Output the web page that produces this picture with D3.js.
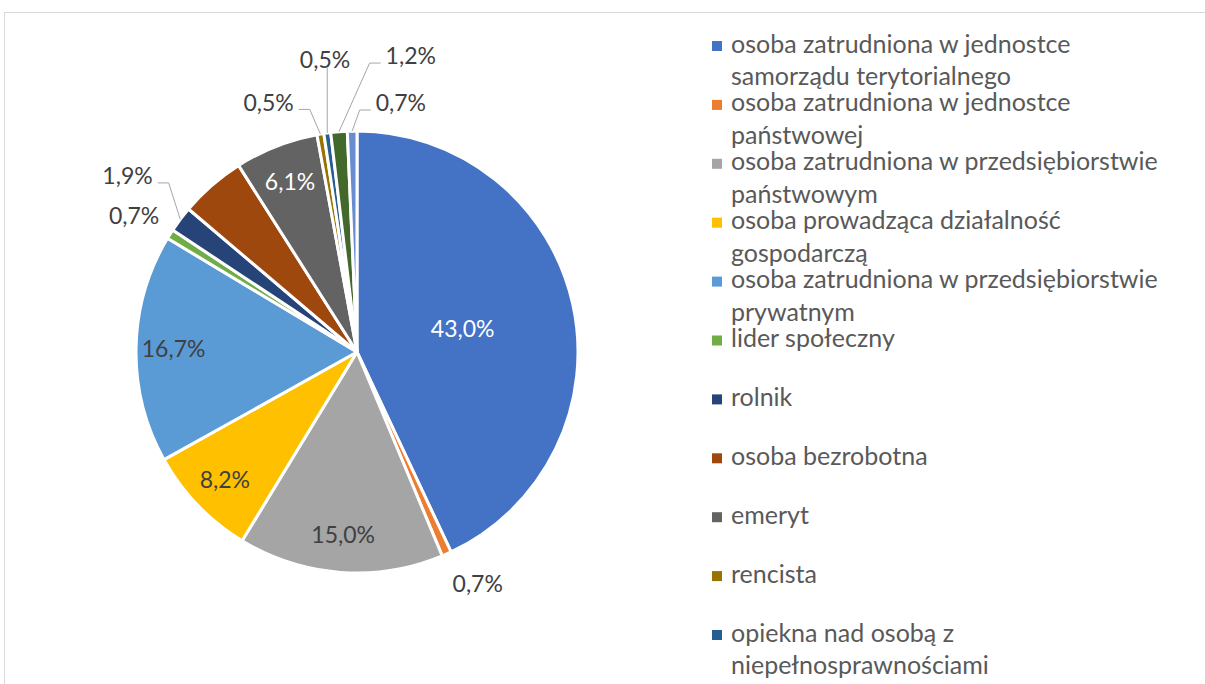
<!DOCTYPE html>
<html>
<head>
<meta charset="utf-8">
<script src="https://cdn.jsdelivr.net/npm/d3@7"></script>
<style>
body { margin: 0; background: #fff; }
svg { display: block; font-family: Lato, "Open Sans", sans-serif; }
</style>
</head>
<body>
<div class="chart"></div>
<script>
// data
var categories = [
    "osoba zatrudniona w jednostce samorządu terytorialnego",
    "osoba zatrudniona w jednostce państwowej",
    "osoba zatrudniona w przedsiębiorstwie państwowym",
    "osoba prowadząca działalność gospodarczą",
    "osoba zatrudniona w przedsiębiorstwie prywatnym",
    "lider społeczny",
    "rolnik",
    "osoba bezrobotna",
    "emeryt",
    "rencista",
    "opiekna nad osobą z niepełnosprawnościami",
    "inne",
    "brak danych"
];
var values = [43.0, 0.7, 15.0, 8.2, 16.7, 0.7, 1.9, 4.8, 6.1, 0.5, 0.5, 1.2, 0.7];
var colors = ["#4472C4", "#ED7D31", "#A5A5A5", "#FFC000", "#5B9BD5", "#70AD47",
              "#264478", "#9E480E", "#636363", "#997300", "#255E91", "#43682B", "#698ED0"];

var options = {
    width: 1205,
    height: 684,
    cx: 357,
    cy: 352,
    radius: 221,
    labelSize: 23,
    legendSize: 25,
    legendX: 712,
    legendY: 46,
    legendStep: 58.9,
    lineGap: 32.5,
    wrapWidth: 440
};

// label layout (Excel moved the small ones by hand)
var hiddenLabels = [7];
var outsideLabels = {
    1:  {r: 1.183, deg: 152.5, leader: false},
    5:  {r: 1.182, deg: 301.4, leader: false},
    6:  {r: 1.309, deg: 307.5, leader: true},
    9:  {r: 1.198, deg: 340.5, leader: true},
    10: {r: 1.329, deg: 353.75, leader: true},
    11: {r: 1.361, deg: 10.3, leader: true},
    12: {r: 1.144, deg: 10.0, leader: true}
};

var fmt = function (v) { return d3.format(".1f")(v).replace(".", ",") + "%"; };

var data = categories.map(function (c, i) {
    return {name: c, value: values[i], color: colors[i], index: i};
});

var svg = d3.select(".chart").append("svg")
    .attr("width", options.width)
    .attr("height", options.height);

svg.append("rect")
    .attr("x", 4.5)
    .attr("y", 12.5)
    .attr("width", options.width + 20)
    .attr("height", options.height + 20)
    .attr("fill", "#fff")
    .attr("stroke", "#D9D9D9")
    .attr("stroke-width", 1);

var pie = d3.pie().sort(null).value(function (d) { return d.value; });
var arc = d3.arc().innerRadius(0).outerRadius(options.radius);
var arcs = pie(data);

var g = svg.append("g")
    .attr("transform", "translate(" + options.cx + "," + options.cy + ")");

g.selectAll("path.slice").data(arcs).enter().append("path")
    .attr("class", "slice")
    .attr("d", arc)
    .attr("fill", function (d) { return d.data.color; })
    .attr("stroke", "#fff")
    .attr("stroke-width", 3)
    .attr("stroke-linejoin", "round");

function polar(r, a) {
    return [r * Math.sin(a), -r * Math.cos(a)];
}

var labelArcs = arcs.filter(function (d) { return hiddenLabels.indexOf(d.index) < 0; });

labelArcs.forEach(function (d) {
    var mid = (d.startAngle + d.endAngle) / 2;
    var out = outsideLabels[d.index];
    var pos, fill = "#404040";
    if (out) {
        pos = polar(out.r * options.radius, out.deg * Math.PI / 180);
    } else {
        var f = d.data.value > 30 ? 0.49 : 0.83;
        pos = polar(f * options.radius, mid);
        if (d3.lab(d.data.color).l < 55) fill = "#fff";
    }
    var t = g.append("text")
        .attr("x", pos[0])
        .attr("y", pos[1])
        .attr("dy", "0.36em")
        .attr("text-anchor", "middle")
        .attr("font-size", options.labelSize)
        .attr("fill", fill)
        .text(fmt(d.data.value));

    if (out && out.leader) {
        var w = t.node().getComputedTextLength();
        var p = polar(options.radius, mid);
        var pts;
        if (Math.abs(p[0] - pos[0]) < w / 2 - 5) {
            pts = [[p[0], pos[1] + 8], p];
        } else {
            var dir = p[0] < pos[0] ? -1 : 1;
            var sx = pos[0] + dir * (w / 2 + 5);
            var sy = pos[1] + 7;
            pts = [[sx, sy], [sx + dir * 11, sy], p];
        }
        g.append("path")
            .attr("d", d3.line()(pts))
            .attr("fill", "none")
            .attr("stroke", "#A6A6A6")
            .attr("stroke-width", 1);
    }
});

// legend (the last entries run past the bottom of the chart area, like in the original)
var legend = svg.append("g").attr("class", "legend");
var measure = svg.append("text").attr("font-size", options.legendSize).attr("visibility", "hidden");

function wrap(str) {
    var words = str.split(" "), lines = [], line = "";
    words.forEach(function (w) {
        var test = line ? line + " " + w : w;
        measure.text(test);
        if (line && measure.node().getComputedTextLength() > options.wrapWidth) {
            lines.push(line);
            line = w;
        } else {
            line = test;
        }
    });
    lines.push(line);
    return lines;
}

data.forEach(function (d, i) {
    var y = options.legendY + i * options.legendStep;
    if (y + 5 > options.height) return;
    var item = legend.append("g");
    item.append("rect")
        .attr("x", options.legendX)
        .attr("y", y - 5)
        .attr("width", 10)
        .attr("height", 10)
        .attr("fill", d.color);
    var txt = item.append("text")
        .attr("font-size", options.legendSize)
        .attr("fill", "#595959");
    wrap(d.name).forEach(function (ln, k) {
        txt.append("tspan")
            .attr("x", options.legendX + 19)
            .attr("y", y + k * options.lineGap)
            .attr("dy", "0.26em")
            .text(ln);
    });
});
measure.remove();
</script>
</body>
</html>
